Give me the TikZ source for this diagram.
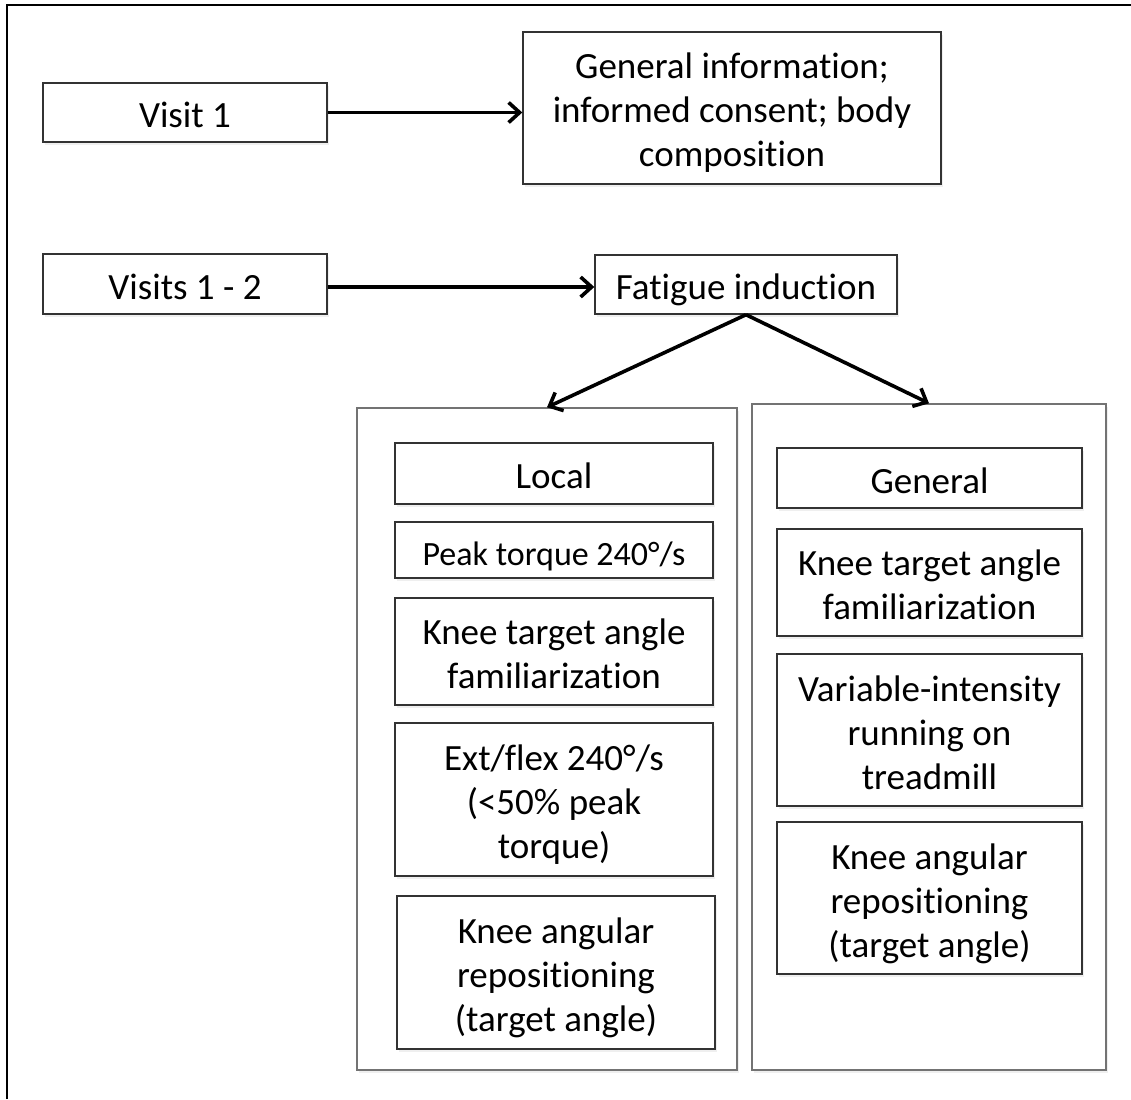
\documentclass[tikz,border=0pt]{standalone}
\usepackage{fontspec}
\setmainfont{Carlito}[Ligatures={NoCommon,NoContextual},RawFeature={-liga;-clig;-dlig}]
\usetikzlibrary{arrows.meta,shadows}
\newcommand\boxstrut{\rule[-7pt]{0pt}{44pt}}
\newcommand\nl{\boxstrut\\\boxstrut}
\begin{document}
\begin{tikzpicture}[x=1pt,y=-1pt,
  box/.style={draw=black!80, line width=1.4pt, fill=white, align=center, inner sep=0pt,
    font=\fontsize{37}{44}\selectfont,
    execute at begin node=\boxstrut, execute at end node=\boxstrut,
    drop shadow={shadow xshift=1.5pt, shadow yshift=-3pt, opacity=0.12}},
  colbox/.style={box, draw=black!55},
  conn/.style={line width=3.6pt, -{Straight Barb[length=11pt,width=20pt,line width=3.6pt]}}
]
\useasboundingbox (0,0) rectangle (1131,1099);
\fill[white] (0,0) rectangle (1131,1099);
\draw[line width=2.4pt] (7,1099) -- (7,5) -- (1131,5);

\node[box, minimum width=284, minimum height=59] (v1) at (185,112.5) {Visit 1};
\node[box, minimum width=418, minimum height=152] (gi) at (732,108) {General information;\nl informed consent; body\nl composition};
\node[box, minimum width=284, minimum height=60] (v12) at (185,284) {Visits 1 - 2};
\node[box, minimum width=302, minimum height=59] (fi) at (746,284.5) {Fatigue induction};

\node[colbox, minimum width=380, minimum height=662] (lcol) at (547,739) {};
\node[colbox, minimum width=354, minimum height=666] (rcol) at (929,737) {};

\node[box, minimum width=318, minimum height=61] (local) at (554,473.5) {Local};
\node[box, minimum width=318, minimum height=56, font=\fontsize{34}{44}\selectfont] (peak) at (554,550) {Peak torque 240°/s};
\node[box, minimum width=318, minimum height=107] (kt1) at (554,651.5) {Knee target angle\nl familiarization};
\node[box, minimum width=318, minimum height=153] (ext) at (554,799.5) {Ext/flex 240°/s\nl (<50\% peak\nl torque)};
\node[box, minimum width=318, minimum height=153] (ka1) at (556,972.5) {Knee angular\nl repositioning\nl (target angle)};

\node[box, minimum width=305, minimum height=60] (gen) at (929.5,478) {General};
\node[box, minimum width=305, minimum height=107] (kt2) at (929.5,582.5) {Knee target angle\nl familiarization};
\node[box, minimum width=305, minimum height=152] (var) at (929.5,730) {Variable-intensity\nl running on\nl treadmill};
\node[box, minimum width=305, minimum height=152] (ka2) at (929.5,898) {Knee angular\nl repositioning\nl (target angle)};

\draw[conn] (v1.east) -- (v1.east -| gi.west);
\draw[conn] (v12.east) ++(0,3) coordinate (v12e) -- (v12e -| fi.west);
\draw[conn] (fi.south) -- (lcol.north);
\draw[conn] (fi.south) -- (rcol.north);
\end{tikzpicture}
\end{document}
